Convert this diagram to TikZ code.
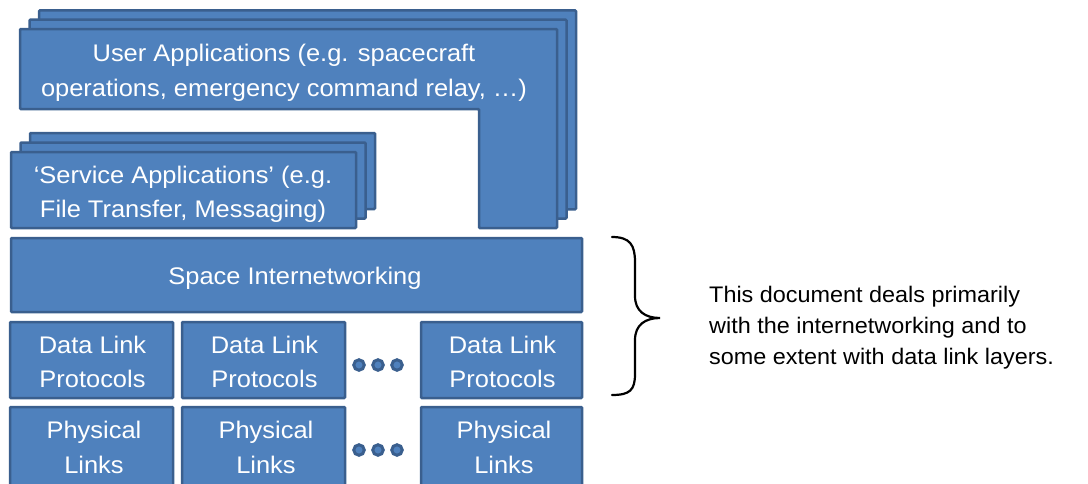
\documentclass[tikz,border=0pt]{standalone}
\usepackage{fontspec}
\setmainfont{Liberation Sans}
\definecolor{boxfill}{HTML}{4F81BD}
\definecolor{boxline}{HTML}{3A5F8E}
\tikzset{
  layer/.style={draw=boxline, fill=boxfill, line width=2.5pt, rounded corners=1pt},
  cell/.style={layer, rectangle, inner sep=0pt},
  caption/.style={text=white, align=center, transform shape, xscale=1.06,
                  font=\fontsize{24}{34.5}\selectfont},
  dot/.style={circle, draw=boxline, fill=boxfill, line width=3pt, minimum size=10.5pt, inner sep=0pt},
  note/.style={align=left, anchor=west, inner sep=0pt, transform shape, xscale=1.04,
               font=\fontsize{22.5}{31}\selectfont}
}
\begin{document}
\begin{tikzpicture}[x=1pt,y=-1pt]
\useasboundingbox (0,0) rectangle (1088,483);
\clip (0,0) rectangle (1088,483);

% user applications: three stacked L-shaped layers
\foreach \d in {2,1,0}{
  \draw[layer, shift={(9.5*\d,-9.3*\d)}]
    (20,29) -- (557,29) -- (557,228) -- (479,228) -- (479,109) -- (20,109) -- cycle;
}
\node[caption] (user) at (284,73) {User Applications (e.g. spacecraft\\operations, emergency command relay, \textellipsis)};

% service applications: three stacked layers
\foreach \d in {2,1,0}{
  \draw[layer, shift={(9.5*\d,-9.5*\d)}] (11,152) rectangle (356,228);
}
\node[caption] (service) at (183,194.5) {`Service Applications' (e.g.\\File Transfer, Messaging)};

% space internetworking layer
\node[cell, minimum width=571pt, minimum height=74pt] (sin) at (296.5,275) {};
\node[caption] (sintext) at (295,278) {Space Internetworking};

% data link layer
\node[cell, minimum width=163pt, minimum height=76pt] (dl1) at (91.5,360) {};
\node[cell, minimum width=163pt, minimum height=76pt] (dl2) at (263.5,360) {};
\node[cell, minimum width=161pt, minimum height=76pt] (dl3) at (501.5,360) {};
\node[caption] at (92.5,362) {Data Link\\Protocols};
\node[caption] at (264.5,362) {Data Link\\Protocols};
\node[caption] at (502.5,362) {Data Link\\Protocols};

% physical layer
\node[cell, minimum width=163pt, minimum height=84pt] (ph1) at (91.5,449) {};
\node[cell, minimum width=163pt, minimum height=84pt] (ph2) at (263.5,449) {};
\node[cell, minimum width=161pt, minimum height=84pt] (ph3) at (501.5,449) {};
\node[caption] at (94,447.5) {Physical\\Links};
\node[caption] at (266,447.5) {Physical\\Links};
\node[caption] at (504,447.5) {Physical\\Links};

% ellipsis dots between columns
\foreach \x/\n in {359/a,378/b,397/c}{
  \node[dot] (dl\n) at (\x,365) {};
  \node[dot] (ph\n) at (\x,450) {};
}

% brace over internetworking and data link layers
\coordinate (btop) at (612,237);
\coordinate (btip) at (660,318);
\coordinate (bbot) at (612,395);
\draw[line width=2.2pt, line cap=round]
  (btop) .. controls (630,237) and (635,245) .. (635,262) -- (635,296)
  .. controls (635,311) and (645,318) .. (btip)
  .. controls (645,318) and (635,325) .. (635,340) -- (635,374)
  .. controls (635,390) and (630,395) .. (bbot);

\node[note] (scope) at (709,328) {This document deals primarily\\with the internetworking and to\\some extent with data link layers.};
\end{tikzpicture}
\end{document}
